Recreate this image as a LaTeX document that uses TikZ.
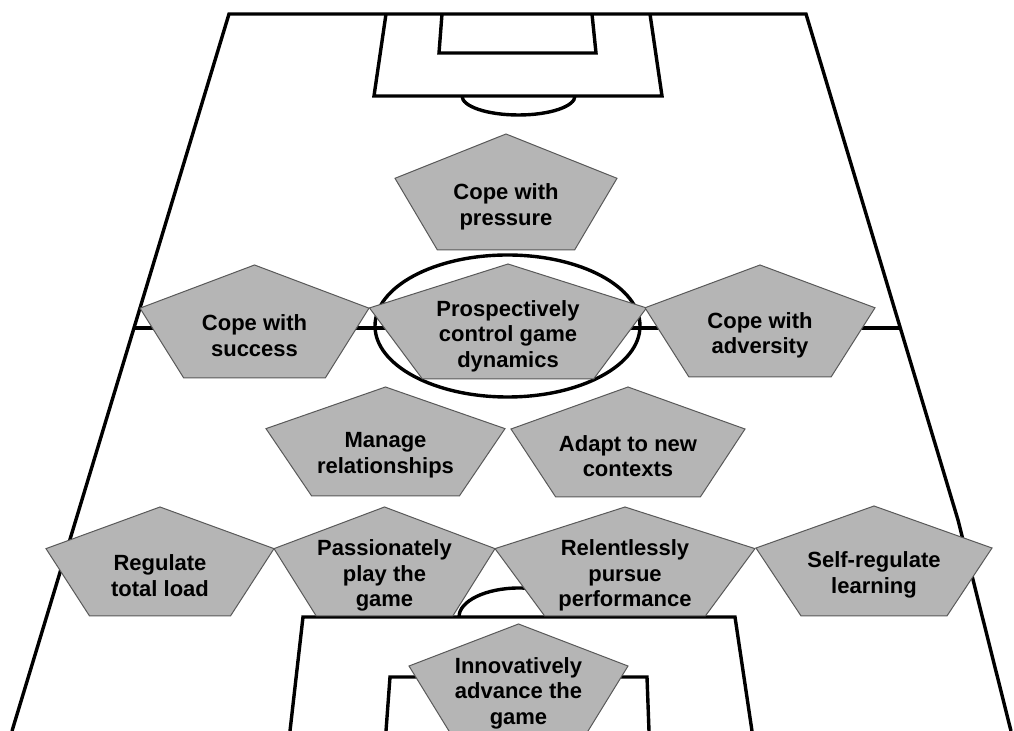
\documentclass[tikz,border=0pt]{standalone}
\usepackage{fontspec}
\setmainfont{Liberation Sans}
\tikzset{
  pitch/.style={line width=1.7pt,line join=miter},
  pent/.style={draw=black!65,line width=0.5pt,fill=black!29},
  pentlabel/.style={align=center,inner sep=0pt,font=\bfseries\fontsize{11}{12.75}\selectfont}
}
% #1 name, #2 centre x, #3 top y, #4 width, #5 height, #6 text
\newcommand{\pentnode}[6]{%
  \draw[pent] (#2,#3) -- ++(0.5*#4,0.382*#5) -- ++(-0.191*#4,0.618*#5)
    -- ++(-0.618*#4,0) -- ++(-0.191*#4,-0.618*#5) -- cycle;
  \node[pentlabel] (#1) at (#2,#3+0.6*#5+3) {#6};
}
\begin{document}
\begin{tikzpicture}[x=0.5pt,y=-0.5pt]
  \useasboundingbox (0,0) rectangle (1014,731);
  \clip (0,0) rectangle (1014,731);
  % touch lines and goal line
  \draw[pitch] (12,731) -- (229,14) -- (806,14) -- (958,520) -- (1011,731);
  % halfway line, centre circle
  \draw[pitch] (134,328) -- (900,328);
  \draw[pitch] (507.5,326) ellipse [x radius=132.5,y radius=71];
  % far end
  \draw[pitch] (386,14) -- (374,96) -- (662,96) -- (650,14);
  \draw[pitch] (442,14) -- (439,53) -- (596,53) -- (592,14);
  \draw[pitch] (462,96) arc [start angle=180,end angle=0,x radius=56.5,y radius=19];
  % near end
  \draw[pitch] (290,731) -- (303,617) -- (735,617) -- (752,731);
  \draw[pitch] (386,731) -- (390,677) -- (647,677) -- (649,731);
  \draw[pitch] (459,617) arc [start angle=180,end angle=360,x radius=60,y radius=29];

  % the players
  \pentnode{press}{506}{134}{222}{116}{Cope with\\pressure}
  \pentnode{success}{254.5}{265}{229}{113}{Cope with\\success}
  \pentnode{control}{508}{264}{277}{115}{Prospectively\\control game\\dynamics}
  \pentnode{adversity}{760}{265}{230}{112}{Cope with\\adversity}
  \pentnode{relations}{385.5}{387}{239}{109}{Manage\\relationships}
  \pentnode{adapt}{628}{387}{234}{110}{Adapt to new\\contexts}
  \pentnode{load}{160}{507}{228}{109}{Regulate\\total load}
  \pentnode{passion}{384.5}{507}{221}{109}{Passionately\\play the\\game}
  \pentnode{pursue}{625}{507}{260}{109}{Relentlessly\\pursue\\performance}
  \pentnode{learning}{874}{506}{236}{110}{Self-regulate\\learning}
  \pentnode{innovate}{518.5}{624}{219}{110}{Innovatively\\advance the\\game}
\end{tikzpicture}
\end{document}
